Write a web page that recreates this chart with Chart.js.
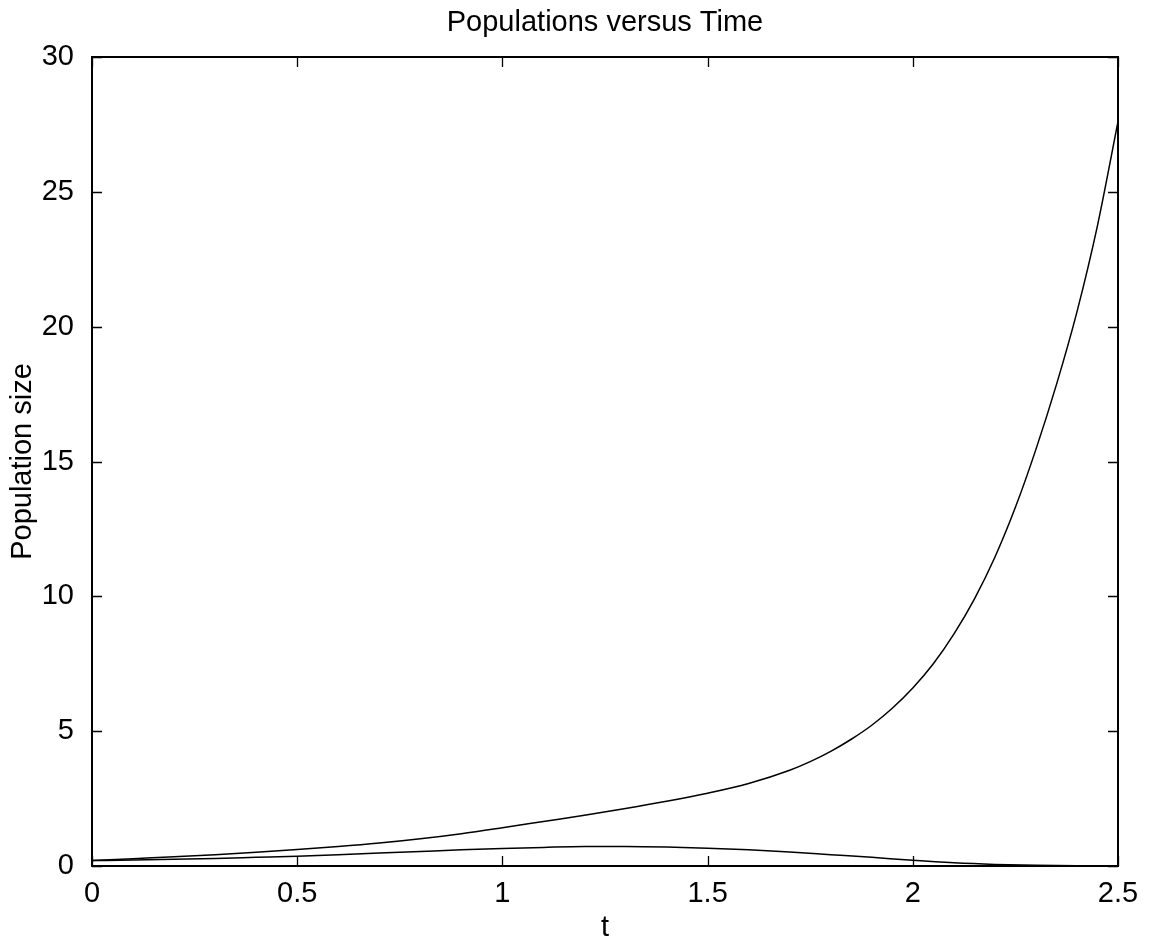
<!DOCTYPE html>
<html>
<head>
<meta charset="utf-8">
<script src="https://cdn.jsdelivr.net/npm/chart.js@4/dist/chart.umd.min.js"></script>
<style>
html,body{margin:0;padding:0;background:#fff;}
#wrap{width:1152px;height:945px;position:relative;}
</style>
</head>
<body>
<div id="wrap"><canvas id="c"></canvas></div>
<script>
// Data
const tUpper = [0,0.1,0.2,0.3,0.4,0.5,0.6,0.7,0.8,0.9,1.0,1.1,1.2,1.3,1.4,1.5,1.6,1.7,1.75,1.8,1.85,1.9,1.95,2.0,2.05,2.1,2.15,2.2,2.25,2.3,2.35,2.4,2.45,2.5];
const popUpper = [0.2,0.27,0.34,0.42,0.51,0.61,0.72,0.85,1.01,1.2,1.42,1.65,1.88,2.13,2.4,2.7,3.06,3.55,3.87,4.25,4.7,5.22,5.85,6.6,7.5,8.6,9.9,11.45,13.3,15.45,17.85,20.55,23.75,27.6];
const tLower = [0,0.1,0.2,0.3,0.4,0.5,0.6,0.7,0.8,0.9,1.0,1.1,1.2,1.3,1.4,1.5,1.6,1.7,1.8,1.9,2.0,2.1,2.2,2.3,2.4,2.5];
const popLower = [0.2,0.22,0.25,0.28,0.32,0.36,0.42,0.48,0.54,0.6,0.65,0.69,0.72,0.72,0.7,0.66,0.6,0.52,0.42,0.32,0.21,0.12,0.06,0.025,0.01,0.003];
const xTicks = [0,0.5,1,1.5,2,2.5];
const yTicks = [0,5,10,15,20,25,30];

const FONT = '"Liberation Sans", Arial, Helvetica, sans-serif';

const frameTicks = {
  id: 'frameTicks',
  afterDraw(chart) {
    const {ctx, chartArea: a, scales: {x, y}} = chart;
    ctx.save();
    ctx.strokeStyle = '#000';
    ctx.lineWidth = 1.3;
    const L = 10;
    ctx.beginPath();
    xTicks.forEach(v => {
      const px = Math.round(x.getPixelForValue(v)) + 0.5;
      ctx.moveTo(px, a.bottom); ctx.lineTo(px, a.bottom - L);
      ctx.moveTo(px, a.top); ctx.lineTo(px, a.top + L);
    });
    yTicks.forEach(v => {
      const py = Math.round(y.getPixelForValue(v)) + 0.5;
      ctx.moveTo(a.left, py); ctx.lineTo(a.left + L, py);
      ctx.moveTo(a.right, py); ctx.lineTo(a.right - L, py);
    });
    ctx.stroke();
    ctx.lineWidth = 2;
    ctx.strokeRect(a.left, a.top, a.right - a.left, a.bottom - a.top);
    ctx.restore();
  }
};

new Chart(document.getElementById('c'), {
  type: 'line',
  data: {
    datasets: [
      {data: tUpper.map((t,i)=>({x:t,y:popUpper[i]})), borderColor:'#000', borderWidth:1.5, pointRadius:0, cubicInterpolationMode:'monotone', fill:false},
      {data: tLower.map((t,i)=>({x:t,y:popLower[i]})), borderColor:'#000', borderWidth:1.5, pointRadius:0, cubicInterpolationMode:'monotone', fill:false}
    ]
  },
  options: {
    responsive: true,
    maintainAspectRatio: false,
    animation: false,
    events: [],
    layout: {padding: {left: 0, right: 34, top: 0, bottom: 0}},
    plugins: {
      legend: {display: false},
      tooltip: {enabled: false},
      title: {
        display: true,
        fullSize: false,
        text: 'Populations versus Time',
        color: '#000',
        font: {family: FONT, size: 29, weight: 'normal', lineHeight: 1.2},
        padding: {top: 6, bottom: 16.2}
      }
    },
    scales: {
      x: {
        type: 'linear', min: 0, max: 2.5,
        afterBuildTicks(s){ s.ticks = xTicks.map(v=>({value:v})); },
        afterFit(s){ s.height = 79; },
        grid: {display: false},
        border: {display: false},
        ticks: {color:'#000', font:{family:FONT, size:29}, padding: 3, maxRotation:0,
          callback: v => String(v)},
        title: {display: true, text: 't', color:'#000', font:{family:FONT, size:29}, padding:{top:0,bottom:0}}
      },
      y: {
        type: 'linear', min: 0, max: 30,
        afterBuildTicks(s){ s.ticks = yTicks.map(v=>({value:v})); },
        afterFit(s){ s.width = 92; },
        grid: {display: false},
        border: {display: false},
        ticks: {color:'#000', font:{family:FONT, size:29}, padding: 10, callback: v => String(v)},
        title: {display: true, text: 'Population size', color:'#000', font:{family:FONT, size:29}, padding:{top:6,bottom:0}}
      }
    }
  },
  plugins: [frameTicks]
});
</script>
</body>
</html>
